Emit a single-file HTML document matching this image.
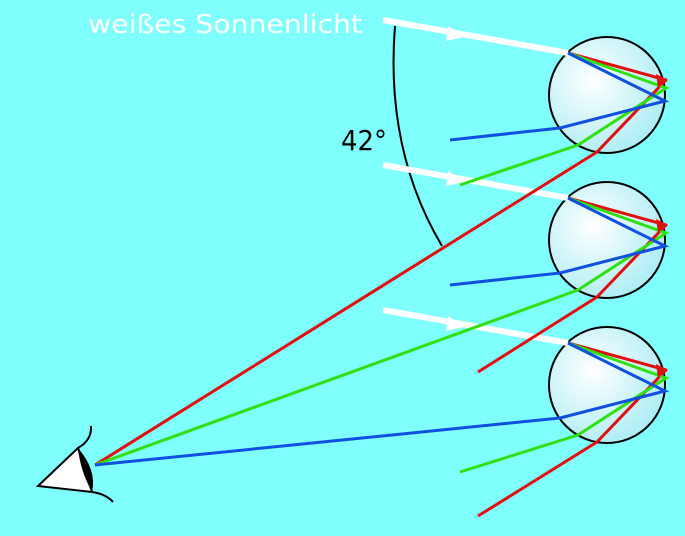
<!DOCTYPE html>
<html><head><meta charset="utf-8"><style>
html,body{margin:0;padding:0;background:#80ffff;}
svg{display:block;}
</style></head><body>
<svg width="685" height="536" viewBox="0 0 685 536" xmlns="http://www.w3.org/2000/svg">
<defs>
<radialGradient id="g" cx="0.38" cy="0.38" r="0.7">
<stop offset="0" stop-color="#ffffff"/>
<stop offset="1" stop-color="#a8ecf4"/>
</radialGradient>
<g id="drop">
<circle cx="607" cy="95" r="58" fill="url(#g)" stroke="#000" stroke-width="2"/>
<polyline points="383,20 568,53" stroke="#fff" stroke-width="6" fill="none"/>
<polygon points="448,26 464,37 446,41" fill="#fff"/>
<polyline points="568,53 666,80 597,152" stroke="#e01010" stroke-width="3" fill="none" stroke-linejoin="round"/>
<polyline points="568,53 666,88 578,145" stroke="#30e010" stroke-width="3" fill="none"/>
<polyline points="568,53 665,101 560,128" stroke="#1050e0" stroke-width="3" fill="none"/>
<polygon points="656,74 668,80 658,88" fill="#e01010"/>
</g>
</defs>
<text x="88" y="33" font-family="DejaVu Sans, sans-serif" font-size="26" fill="#fff" textLength="274" lengthAdjust="spacingAndGlyphs">weißes Sonnenlicht</text>
<text x="341" y="150" font-family="DejaVu Sans, sans-serif" font-size="28" fill="#000" textLength="46" lengthAdjust="spacingAndGlyphs">42°</text>
<path d="M395,26 Q385,150 442,246" stroke="#000" stroke-width="2" fill="none"/>
<use href="#drop"/>
<use href="#drop" transform="translate(0,145)"/>
<use href="#drop" transform="translate(0,290)"/>
<line x1="597" y1="152" x2="95" y2="465" stroke="#e01010" stroke-width="3"/>
<line x1="578" y1="145" x2="460" y2="185" stroke="#30e010" stroke-width="3"/>
<line x1="560" y1="128" x2="450" y2="140" stroke="#1050e0" stroke-width="3"/>
<line x1="597" y1="297" x2="478" y2="372" stroke="#e01010" stroke-width="3"/>
<line x1="578" y1="290" x2="95" y2="465" stroke="#30e010" stroke-width="3"/>
<line x1="560" y1="273" x2="450" y2="285" stroke="#1050e0" stroke-width="3"/>
<line x1="597" y1="442" x2="478" y2="516" stroke="#e01010" stroke-width="3"/>
<line x1="578" y1="435" x2="460" y2="472" stroke="#30e010" stroke-width="3"/>
<line x1="560" y1="418" x2="95" y2="465" stroke="#1050e0" stroke-width="3"/>
<polygon points="38,486 78,448 92,492" fill="#fff" stroke="#000" stroke-width="2"/>
<path d="M78,448 Q97,470 92,492 Q80,470 78,448 Z" fill="#000"/>
<path d="M78,448 Q92,440 91,426" stroke="#000" stroke-width="2" fill="none"/>
<path d="M92,492 Q106,494 113,502" stroke="#000" stroke-width="2" fill="none"/>
</svg>
</body></html>
